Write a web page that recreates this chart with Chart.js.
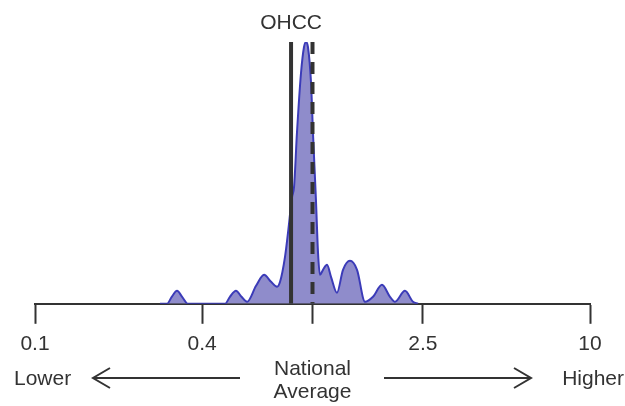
<!DOCTYPE html>
<html>
<head>
<meta charset="utf-8">
<script src="https://cdn.jsdelivr.net/npm/chart.js@4"></script>
<style>
  body { margin: 0; background: #fff; }
</style>
</head>
<body>
<canvas id="myChart" width="625" height="406"></canvas>
<script>
"use strict";
// density curve (x = ratio on log axis, y = density)
const curveX = [0.282, 0.299, 0.311, 0.325, 0.339, 0.356, 0.484, 0.504, 0.530, 0.555, 0.581, 0.626, 0.669, 0.709, 0.745,
    0.764, 0.796, 0.816, 0.844, 0.858, 0.879, 0.909, 0.932, 0.948, 0.963, 0.988, 1.004, 1.029, 1.047, 1.064, 1.091,
    1.128, 1.166, 1.225, 1.288, 1.365, 1.447, 1.546, 1.652, 1.780, 1.902, 1.983, 2.154, 2.302, 2.400];
const curveY = [0, 0, 0.07, 0.13, 0.07, 0, 0, 0.07, 0.13, 0.07, 0.02, 0.18, 0.29, 0.22, 0.17,
    0.22, 0.47, 0.71, 1.07, 1.17, 1.71, 2.31, 2.57, 2.62, 2.57, 2.21, 1.71, 1.04, 0.51, 0.29, 0.34,
    0.39, 0.27, 0.11, 0.34, 0.43, 0.34, 0.02, 0.07, 0.19, 0.07, 0.02, 0.13, 0.02, 0];
const ohccValue = 0.837;
const nationalValue = 1.0;
const yTop = 2.62;
const tickValues = [0.1, 0.4, 1, 2.5, 10];
const tickLabels = ["0.1", "0.4", "", "2.5", "10"];

const ink = "#333333";
const fontFamily = "Arial, 'Liberation Sans', sans-serif";
Chart.defaults.font.family = fontFamily;
Chart.defaults.font.size = 21;
Chart.defaults.color = ink;

const textPlugin = {
    id: "texts",
    afterDraw(chart) {
        const ctx = chart.ctx;
        const x = chart.scales.x;
        const ohccX = x.getPixelForValue(ohccValue);
        const natX = x.getPixelForValue(nationalValue);
        ctx.save();
        ctx.fillStyle = ink;
        ctx.strokeStyle = ink;
        ctx.font = "21px " + fontFamily;
        ctx.textBaseline = "middle";
        ctx.textAlign = "center";
        ctx.fillText("OHCC", ohccX, 23);
        ctx.fillText("National", natX, 369);
        ctx.fillText("Average", natX, 392);
        ctx.textAlign = "left";
        ctx.fillText("Lower", 14, 379);
        ctx.textAlign = "right";
        ctx.fillText("Higher", 624, 379);
        // arrows
        ctx.lineWidth = 2;
        ctx.beginPath();
        ctx.moveTo(240, 378); ctx.lineTo(93, 378);
        ctx.moveTo(110, 368); ctx.lineTo(93, 378); ctx.lineTo(110, 388);
        ctx.moveTo(384, 378); ctx.lineTo(531, 378);
        ctx.moveTo(514, 368); ctx.lineTo(531, 378); ctx.lineTo(514, 388);
        ctx.stroke();
        ctx.restore();
    }
};

const ctx = document.querySelector("#myChart").getContext("2d");
const myChart = new Chart(ctx, {
    type: "line",
    data: {
        datasets: [{
            data: [{x: ohccValue, y: yTop}, {x: ohccValue, y: 0}],
            borderColor: ink,
            borderWidth: 4,
            pointRadius: 0,
            order: 0
        }, {
            data: [{x: nationalValue, y: yTop}, {x: nationalValue, y: 0}],
            borderColor: ink,
            borderWidth: 4,
            borderDash: [12, 8],
            pointRadius: 0,
            order: 1
        }, {
            data: curveX.map((v, i) => ({x: v, y: curveY[i]})),
            borderColor: "#3b3bb8",
            backgroundColor: "rgba(143, 140, 203, 1)",
            borderWidth: 2,
            fill: "origin",
            cubicInterpolationMode: "monotone",
            pointRadius: 0,
            order: 2
        }]
    },
    options: {
        responsive: false,
        animation: false,
        layout: {
            padding: { top: 42, left: 35, right: 35, bottom: 41 }
        },
        plugins: {
            legend: { display: false },
            tooltip: { enabled: false }
        },
        scales: {
            x: {
                type: "logarithmic",
                min: 0.1,
                max: 10,
                z: 1,
                afterBuildTicks: scale => {
                    scale.ticks = tickValues.map(v => ({value: v}));
                },
                ticks: {
                    autoSkip: false,
                    maxRotation: 0,
                    padding: 8,
                    color: ink,
                    callback: (v, i) => tickLabels[i]
                },
                grid: {
                    drawOnChartArea: false,
                    drawTicks: true,
                    tickLength: 20,
                    tickWidth: 2,
                    tickColor: ink
                },
                border: { display: true, color: ink, width: 2 }
            },
            y: {
                display: false,
                min: 0,
                max: yTop
            }
        }
    },
    plugins: [textPlugin]
});
</script>
</body>
</html>
